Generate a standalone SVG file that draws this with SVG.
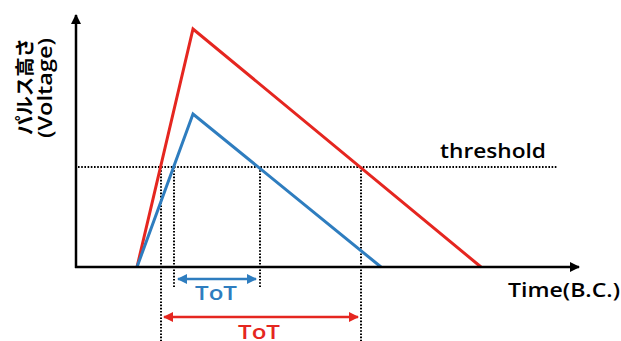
<svg xmlns="http://www.w3.org/2000/svg" width="621" height="341" viewBox="0 0 621 341">
<defs>
<style>
.axis{stroke:#000;stroke-width:2.5;fill:none}
.dot{stroke:#000;stroke-width:2;stroke-dasharray:1.6 1.6;fill:none}
.red{stroke:#e52620;stroke-width:3;fill:none;stroke-linejoin:miter}
.blue{stroke:#2e7dbf;stroke-width:3;fill:none;stroke-linejoin:miter}
.lbl{font-family:"Open Sans","Noto Sans CJK JP",sans-serif;font-weight:600;font-size:19.5px}
.jp{font-family:"Noto Sans CJK JP",sans-serif;font-weight:bold;font-size:19px}
</style>
<marker id="ah" viewBox="0 0 10 10" refX="9" refY="5" markerWidth="4" markerHeight="4" orient="auto" markerUnits="strokeWidth"><path d="M0,0 L10,5 L0,10 z" fill="#000"/></marker>
<marker id="rh" viewBox="0 0 10 10" refX="9" refY="5" markerWidth="4.5" markerHeight="4" orient="auto-start-reverse" markerUnits="strokeWidth"><path d="M0,0 L10,5 L0,10 z" fill="#e52620"/></marker>
<marker id="bh" viewBox="0 0 10 10" refX="9" refY="5" markerWidth="4.5" markerHeight="4" orient="auto-start-reverse" markerUnits="strokeWidth"><path d="M0,0 L10,5 L0,10 z" fill="#2e7dbf"/></marker>
</defs>
<g id="connectors">
<line class="dot" x1="78" y1="167" x2="557" y2="167"/>
<line class="dot" x1="161" y1="167" x2="161" y2="341"/>
<line class="dot" x1="361" y1="167" x2="361" y2="341"/>
<line class="dot" x1="174" y1="167" x2="174" y2="288"/>
<line class="dot" x1="260" y1="167" x2="260" y2="288"/>
<polyline class="red" points="137,267 193,29 481,267"/>
<polyline class="blue" points="137,267 193,114 381,267"/>
<line class="axis" x1="76" y1="268" x2="76" y2="15" marker-end="url(#ah)"/>
<line class="axis" x1="75" y1="267" x2="579" y2="267" marker-end="url(#ah)"/>
<line stroke="#2e7dbf" stroke-width="2.5" x1="178" y1="279" x2="256" y2="279" marker-start="url(#bh)" marker-end="url(#bh)"/>
<line stroke="#e52620" stroke-width="2.5" x1="164" y1="317" x2="358" y2="317" marker-start="url(#rh)" marker-end="url(#rh)"/>
</g>
<g id="ylabel">
<text class="jp" transform="translate(32,135) rotate(-90)" textLength="97" lengthAdjust="spacingAndGlyphs">パルス高さ</text>
<text class="lbl" transform="translate(52,138) rotate(-90)" textLength="100" lengthAdjust="spacingAndGlyphs">(Voltage)</text>
</g>
<g id="threshold"><text class="lbl" x="440" y="158" textLength="106" lengthAdjust="spacingAndGlyphs">threshold</text></g>
<g id="time"><text class="lbl" x="508" y="297" textLength="112" lengthAdjust="spacingAndGlyphs">Time(B.C.)</text></g>
<g id="tot-blue"><text class="lbl" x="195" y="300" fill="#2e7dbf" textLength="42" lengthAdjust="spacingAndGlyphs">ToT</text></g>
<g id="tot-red"><text class="lbl" x="238" y="339" fill="#e52620" textLength="42" lengthAdjust="spacingAndGlyphs">ToT</text></g>
</svg>
